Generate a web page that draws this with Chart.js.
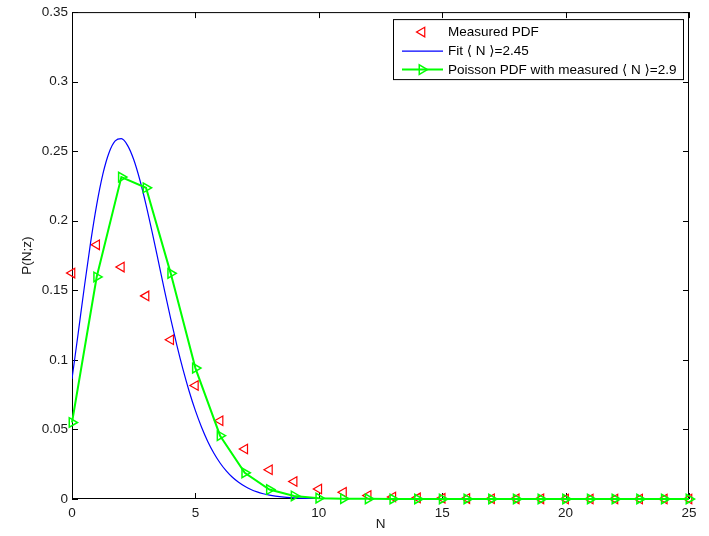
<!DOCTYPE html>
<html>
<head>
<meta charset="utf-8">
<script src="https://cdn.jsdelivr.net/npm/chart.js@4"></script>
<style>
  body { margin: 0; background: #fff; }
  canvas { display: block; }
</style>
</head>
<body>
<canvas id="chart-1" width="709" height="536"></canvas>
<script>
// values
const measuredN = [0, 1, 2, 3, 4, 5, 6, 7, 8, 9, 10, 11, 12, 13, 14, 15, 16, 17, 18, 19, 20, 21, 22, 23, 24, 25];
const measuredP = [0.1624, 0.1827, 0.1667, 0.146, 0.1145, 0.0816, 0.0562, 0.0359, 0.021, 0.0126, 0.0072, 0.0048, 0.0025, 0.0014, 0.0008, 0.0005, 0.0003, 0.0002, 0.0001, 0.0001, 0, 0, 0, 0, 0, 0];
const poissonN = [0, 1, 2, 3, 4, 5, 6, 7, 8, 9, 10, 11, 12, 13, 14, 15, 16, 17, 18, 19, 20, 21, 22, 23, 24, 25];
const poissonP = [0.055, 0.1596, 0.2314, 0.2237, 0.1622, 0.0941, 0.0455, 0.0188, 0.0068, 0.0022, 0.0006, 0.0002, 0.0001, 0, 0, 0, 0, 0, 0, 0, 0, 0, 0, 0, 0, 0];
const fitN = [0, 0.25, 0.5, 0.75, 1, 1.25, 1.5, 1.75, 2, 2.25, 2.5, 2.75, 3, 3.25, 3.5, 3.75, 4, 4.25, 4.5, 4.75, 5, 5.25, 5.5, 5.75, 6, 6.25, 6.5, 6.75, 7, 7.25, 7.5, 7.75, 8, 8.5, 9, 9.5, 10, 11, 12, 14, 17, 20, 25];
const fitP = [0.0863, 0.1191, 0.1524, 0.1839, 0.2114, 0.2335, 0.2489, 0.2574, 0.259, 0.2542, 0.244, 0.2293, 0.2115, 0.1916, 0.1708, 0.1498, 0.1295, 0.1105, 0.093, 0.0773, 0.0635, 0.0516, 0.0414, 0.0329, 0.0259, 0.0202, 0.0156, 0.012, 0.0091, 0.0068, 0.0051, 0.0038, 0.0028, 0.0015, 0.0008, 0.0004, 0.0002, 0.00004, 0.00001, 0, 0, 0, 0];
const xTicks = [0, 5, 10, 15, 20, 25];
const yTicks = [0, 0.05, 0.1, 0.15, 0.2, 0.25, 0.3, 0.35];
const legendLabels = ["Measured PDF", "Fit \u27E8 N \u27E9=2.45", "Poisson PDF with measured \u27E8 N \u27E9=2.9"];

const FONT = '13.5px "Liberation Sans", Arial, "DejaVu Sans", sans-serif';
const TXT = "#1a1a1a";

function pts(xs, ys) {
  return xs.map((v, i) => ({ x: v, y: ys[i] }));
}

function triangle(ctx, x, y, r, dir) {
  // dir: -1 points left, 1 points right
  ctx.beginPath();
  ctx.moveTo(x + dir * r, y);
  ctx.lineTo(x - dir * r * 0.5, y - r * 0.866);
  ctx.lineTo(x - dir * r * 0.5, y + r * 0.866);
  ctx.closePath();
  ctx.stroke();
}

const frame = {
  id: "frame",
  beforeDatasetsDraw(chart) {
    const { ctx, chartArea: a, scales } = chart;
    ctx.save();
    ctx.strokeStyle = "#000";
    ctx.lineWidth = 1;
    ctx.strokeRect(a.left + 0.5, a.top + 0.5, a.right - a.left - 1, a.bottom - a.top - 1);
    ctx.beginPath();
    xTicks.forEach((v) => {
      const px = Math.round(scales.x.getPixelForValue(v)) + 0.5;
      ctx.moveTo(px, a.bottom);
      ctx.lineTo(px, a.bottom - 6);
      ctx.moveTo(px, a.top);
      ctx.lineTo(px, a.top + 6);
    });
    yTicks.forEach((v) => {
      const py = Math.round(scales.y.getPixelForValue(v)) + 0.5;
      ctx.moveTo(a.left, py);
      ctx.lineTo(a.left + 6, py);
      ctx.moveTo(a.right, py);
      ctx.lineTo(a.right - 6, py);
    });
    ctx.stroke();
    ctx.restore();
  },
  afterDraw(chart) {
    const { ctx, chartArea: a } = chart;
    ctx.save();
    ctx.font = FONT;
    const right = Math.round(a.right - 6) + 0.5;
    const left = right - 290;
    const top = a.top + 7.5;
    ctx.fillStyle = "#fff";
    ctx.fillRect(left, top, right - left, 60);
    ctx.strokeStyle = "#000";
    ctx.lineWidth = 1;
    ctx.strokeRect(left, top, right - left, 60);
    const rows = [top + 12.5, top + 31.5, top + 50];
    // measured marker
    ctx.strokeStyle = "#ff0000";
    ctx.lineWidth = 1.2;
    triangle(ctx, left + 28.5, rows[0], 5.5, -1);
    // fit line
    ctx.strokeStyle = "#0000ff";
    ctx.lineWidth = 1.2;
    ctx.beginPath();
    ctx.moveTo(left + 8.5, rows[1]);
    ctx.lineTo(left + 49.5, rows[1]);
    ctx.stroke();
    // poisson line + marker
    ctx.strokeStyle = "#00ff00";
    ctx.lineWidth = 2;
    ctx.beginPath();
    ctx.moveTo(left + 8.5, rows[2]);
    ctx.lineTo(left + 49.5, rows[2]);
    ctx.stroke();
    ctx.lineWidth = 1.5;
    triangle(ctx, left + 28.5, rows[2], 5.5, 1);
    ctx.fillStyle = "#000";
    ctx.textBaseline = "middle";
    ctx.textAlign = "left";
    legendLabels.forEach((t, i) => ctx.fillText(t, left + 54.5, rows[i] + 0.5));
    ctx.restore();
  },
};

const ctx_1 = document.getElementById("chart-1");
new Chart(ctx_1, {
  type: "line",
  data: {
    datasets: [
      {
        label: legendLabels[0],
        data: pts(measuredN, measuredP),
        showLine: false,
        pointStyle: "triangle",
        rotation: -90,
        pointRadius: 5.5,
        pointBorderWidth: 1.2,
        pointBorderColor: "#ff0000",
        pointBackgroundColor: "rgba(0,0,0,0)",
        borderColor: "#ff0000",
        clip: false,
        order: 2,
      },
      {
        label: legendLabels[1],
        data: pts(fitN, fitP),
        borderColor: "#0000ff",
        borderWidth: 1.2,
        pointRadius: 0,
        cubicInterpolationMode: "monotone",
        order: 1,
      },
      {
        label: legendLabels[2],
        data: pts(poissonN, poissonP),
        borderColor: "#00ff00",
        borderWidth: 2,
        pointStyle: "triangle",
        rotation: 90,
        pointRadius: 5.5,
        pointBorderWidth: 1.5,
        pointBorderColor: "#00ff00",
        pointBackgroundColor: "rgba(0,0,0,0)",
        clip: false,
        order: 0,
      },
    ],
  },
  options: {
    responsive: false,
    animation: false,
    layout: { padding: { left: 0, top: 12, right: 20, bottom: 0 } },
    plugins: {
      legend: { display: false },
      tooltip: { enabled: false },
    },
    scales: {
      x: {
        type: "linear",
        min: 0,
        max: 25,
        afterBuildTicks: (s) => {
          s.ticks = xTicks.map((v) => ({ value: v }));
        },
        afterFit: (s) => {
          s.height = 37;
        },
        grid: { display: false, drawTicks: false },
        border: { display: false },
        ticks: {
          padding: 6,
          maxRotation: 0,
          color: TXT,
          font: { family: '"Liberation Sans", Arial, sans-serif', size: 13.5 },
        },
        title: {
          display: true,
          text: "N",
          color: TXT,
          padding: { top: 0, bottom: 4 },
          font: { family: '"Liberation Sans", Arial, sans-serif', size: 13.5 },
        },
      },
      y: {
        type: "linear",
        min: 0,
        max: 0.35,
        afterBuildTicks: (s) => {
          s.ticks = yTicks.map((v) => ({ value: v }));
        },
        afterFit: (s) => {
          s.width = 72;
        },
        grid: { display: false, drawTicks: false },
        border: { display: false },
        ticks: {
          padding: 4,
          color: TXT,
          font: { family: '"Liberation Sans", Arial, sans-serif', size: 13.5 },
          callback: (v) => String(+Number(v).toFixed(2)),
        },
        title: {
          display: true,
          text: "P(N;z)",
          color: TXT,
          padding: { top: 19, bottom: 0 },
          font: { family: '"Liberation Sans", Arial, sans-serif', size: 13.5 },
        },
      },
    },
  },
  plugins: [frame],
});
</script>
</body>
</html>
